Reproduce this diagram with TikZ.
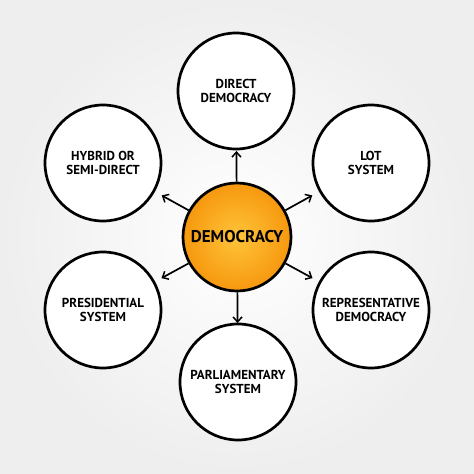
\documentclass[tikz,border=0pt]{standalone}
\usepackage{fontspec}
\setmainfont{PT Sans}
\usetikzlibrary{arrows.meta,calc}
\definecolor{orin}{RGB}{255,196,58}
\definecolor{orout}{RGB}{246,152,14}
\definecolor{bgedge}{RGB}{238,238,238}
\tikzset{
  outer/.style={circle, draw=black, line width=2.7pt, fill=white, minimum size=116pt, inner sep=0pt, align=center,
    font=\fontsize{13}{13.5}\selectfont\bfseries},
  hub/.style={circle, draw=black, line width=2.7pt, inner color=orin, outer color=orout, minimum size=108pt, inner sep=0pt,
    font=\fontsize{17}{18}\selectfont\bfseries},
  arr/.style={line width=1.7pt, -{Straight Barb[length=5pt,width=9pt,line width=1.5pt]}}
}
\begin{document}
\begin{tikzpicture}[x=1pt,y=-1pt]
\useasboundingbox (0,0) rectangle (474,474);
\shade[inner color=white, outer color=bgedge] (0,0) rectangle (474,474);
\node[hub] (c) at (237,237) {DEMOCRACY};
\node[outer] (dir) at (236,91) {DIRECT\\DEMOCRACY};
\node[outer] (hyb) at (103,163) {HYBRID OR\\SEMI-DIRECT};
\node[outer] (lot) at (371,163) {LOT\\SYSTEM};
\node[outer] (pre) at (103,310) {PRESIDENTIAL\\SYSTEM};
\node[outer] (rep) at (371,310) {REPRESENTATIVE\\DEMOCRACY};
\node[outer] (par) at (238,382) {PARLIAMENTARY\\SYSTEM};
\foreach \t in {dir,hyb,lot,pre,rep,par}{
  \coordinate (t\t) at ($(c.center)!86pt!(\t.center)$);
  \draw[arr] (c) -- (t\t);
}
\end{tikzpicture}
\end{document}
